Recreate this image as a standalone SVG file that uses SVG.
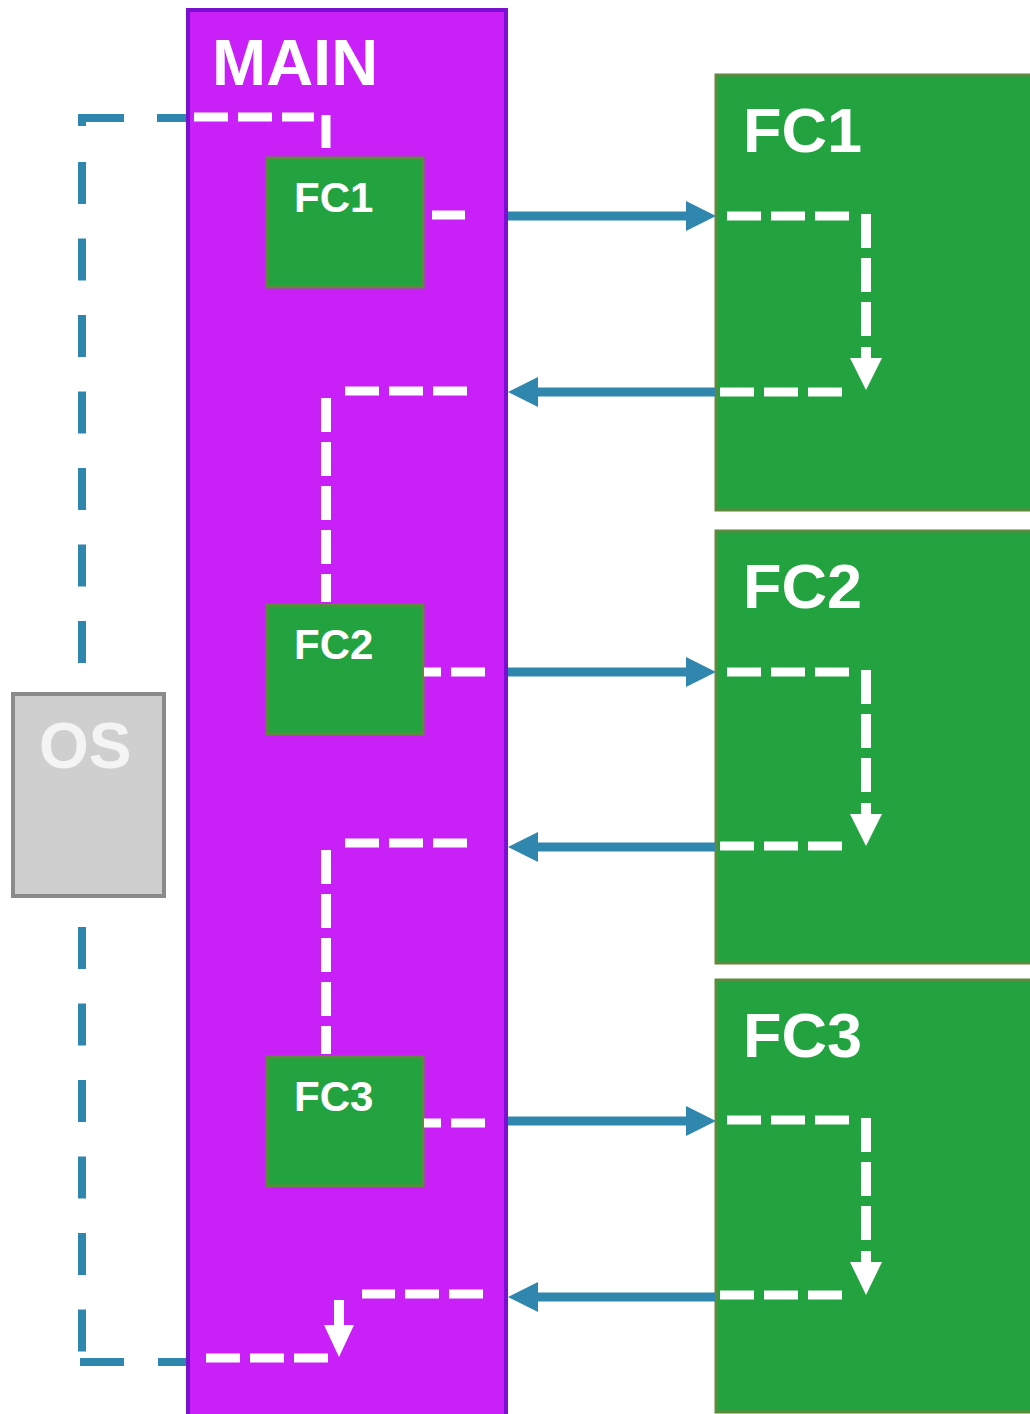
<svg xmlns="http://www.w3.org/2000/svg" width="1030" height="1414" viewBox="0 0 1030 1414">
<style>
.main{fill:#c920f8;stroke:#7a10d0;stroke-width:4}
.fc{fill:#22a340;stroke:#5e8a3d;stroke-width:3}
.os{fill:#d0cfcf;stroke:#8b8b8b;stroke-width:4}
.lbl{font-family:"Liberation Sans",Arial,sans-serif;font-weight:bold;fill:#ffffff}
.oslbl{font-family:"Liberation Sans",Arial,sans-serif;font-weight:bold;fill:#f4f4f4}
.wd{fill:none;stroke:#ffffff;stroke-width:9;stroke-dasharray:34 10}
.wv{fill:none;stroke:#ffffff;stroke-width:10;stroke-dasharray:34 10}
.ws{fill:none;stroke:#ffffff;stroke-width:9}
.wh{fill:#ffffff}
.blue{fill:none;stroke:#2f87ad;stroke-width:9}
.loop{fill:none;stroke:#2f87ad;stroke-width:8}
</style>
<defs>
<marker id="barrow" viewBox="0 0 30 30" refX="14" refY="15" markerWidth="30" markerHeight="30" markerUnits="userSpaceOnUse" orient="auto">
<path d="M0,0 L30,15 L0,30 z" fill="#2f87ad"/>
</marker>
</defs>

<g id="main">
<rect class="main" x="188" y="10" width="318" height="1420"/>
<text class="lbl" x="212" y="85" font-size="65">MAIN</text>
</g>

<g id="fc1-small">
<rect class="fc" x="267" y="158" width="156" height="129"/>
<text class="lbl" x="294" y="212" font-size="42">FC1</text>
</g>
<g id="fc2-small">
<rect class="fc" x="267" y="605" width="156" height="129"/>
<text class="lbl" x="294" y="659" font-size="42">FC2</text>
</g>
<g id="fc3-small">
<rect class="fc" x="267" y="1057" width="156" height="129"/>
<text class="lbl" x="294" y="1111" font-size="42">FC3</text>
</g>

<g id="fc1-big">
<rect class="fc" x="716" y="75" width="330" height="435"/>
<text class="lbl" x="743" y="152" font-size="63">FC1</text>
</g>
<g id="fc2-big">
<rect class="fc" x="716" y="531" width="330" height="432"/>
<text class="lbl" x="743" y="608" font-size="63">FC2</text>
</g>
<g id="fc3-big">
<rect class="fc" x="716" y="980" width="330" height="432"/>
<text class="lbl" x="743" y="1057" font-size="63">FC3</text>
</g>

<g id="connectors">
<!-- OS loop (blue dashed) -->
<path class="loop" d="M186,118 H157 M124,118 H82 V126"/>
<path class="loop" d="M82,162 V1352" stroke-dasharray="42 34.5"/>
<path class="loop" d="M186,1362 H158 M124,1362 H80"/>

<!-- inside MAIN: entry to FC1 -->
<path class="wd" d="M194,117 H314" stroke-dasharray="32 11"/>
<path class="ws" d="M326,115 V148" stroke-width="10"/>
<path class="ws" d="M432,215 H465"/>

<!-- FC1 call / return -->
<path class="blue" d="M508,216 H700" marker-end="url(#barrow)"/>
<path class="wd" d="M727,216 H850" stroke-dasharray="34 10.5"/>
<path class="wv" d="M866,214 V338"/>
<path class="wh" d="M861,347 H871 V358 H882 L866,390 L850,358 H861 z"/>
<path class="wd" d="M842,392 H718" stroke-dasharray="35 9"/>
<path class="blue" d="M715,392 H524" marker-end="url(#barrow)"/>
<path class="wd" d="M467,391 H345" stroke-dasharray="34 9.5"/>
<path class="wv" d="M326,398 V602" stroke-dasharray="33 10.5"/>

<!-- FC2 call / return -->
<path class="wd" d="M485,672 H424" stroke-dasharray="33 9"/>
<path class="blue" d="M508,672 H700" marker-end="url(#barrow)"/>
<path class="wd" d="M727,672 H850" stroke-dasharray="34 10.5"/>
<path class="wv" d="M866,670 V794"/>
<path class="wh" d="M861,803 H871 V814 H882 L866,846 L850,814 H861 z"/>
<path class="wd" d="M842,846 H718" stroke-dasharray="35 9"/>
<path class="blue" d="M715,847 H524" marker-end="url(#barrow)"/>
<path class="wd" d="M467,843 H345" stroke-dasharray="34 9.5"/>
<path class="wv" d="M326,850 V1054" stroke-dasharray="33 10.5"/>

<!-- FC3 call / return -->
<path class="wd" d="M485,1123 H424" stroke-dasharray="33 9"/>
<path class="blue" d="M508,1121 H700" marker-end="url(#barrow)"/>
<path class="wd" d="M727,1120 H850" stroke-dasharray="34 10.5"/>
<path class="wv" d="M866,1118 V1242"/>
<path class="wh" d="M861,1251 H871 V1262 H882 L866,1295 L850,1262 H861 z"/>
<path class="wd" d="M842,1295 H718" stroke-dasharray="35 9"/>
<path class="blue" d="M715,1297 H524" marker-end="url(#barrow)"/>
<path class="wd" d="M483,1294 H362" stroke-dasharray="34 10"/>
<path class="wh" d="M334,1300 H344 V1325 H354 L339,1357 L324,1325 H334 z"/>
<path class="wd" d="M328,1358 H205" stroke-dasharray="34 10"/>
</g>

<g id="os">
<rect class="os" x="13" y="694" width="151" height="202"/>
<text class="oslbl" x="39" y="768" font-size="64">OS</text>
</g>
</svg>
